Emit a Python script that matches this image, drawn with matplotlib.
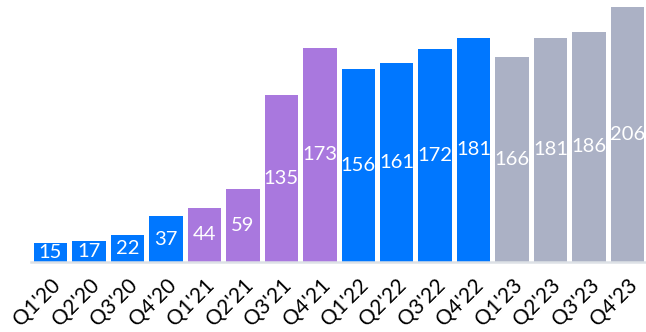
import numpy as np
import matplotlib.pyplot as plt

quarters = ["Q1'20", "Q2'20", "Q3'20", "Q4'20",
            "Q1'21", "Q2'21", "Q3'21", "Q4'21",
            "Q1'22", "Q2'22", "Q3'22", "Q4'22",
            "Q1'23", "Q2'23", "Q3'23", "Q4'23"]
values = [15, 17, 22, 37, 44, 59, 135, 173, 156, 161, 172, 181, 166, 181, 186, 206]
years = ["20", "20", "20", "20", "21", "21", "21", "21",
         "22", "22", "22", "22", "23", "23", "23", "23"]

year_colors = {"20": "#0077ff", "21": "#a978de", "22": "#0077ff", "23": "#abb1c5"}
colors = [year_colors[y] for y in years]

plt.rcParams['font.family'] = ['Lato', 'DejaVu Sans']

fig = plt.figure(figsize=(6.46, 3.32), dpi=100)
ax = fig.add_axes([31 / 646, (332 - 262) / 332, (646 - 31) / 646, (262 - 7) / 332])

x = np.arange(len(values))
bars = ax.bar(x, values, width=0.87, color=colors, zorder=2)

for xi, v in zip(x, values):
    ax.text(xi, v / 2, str(v), ha='center', va='center', color='white', fontsize=14.5, zorder=3)

ax.set_xlim(-0.507, 15.48)
ax.set_ylim(0, 206)

ax.set_xticks(x)
ax.set_xticklabels(quarters, rotation=45, ha='right', rotation_mode='anchor',
                   fontsize=15, color='black')
ax.tick_params(axis='x', length=0, pad=9)
ax.set_yticks([])

for s in ['top', 'right', 'left']:
    ax.spines[s].set_visible(False)
ax.spines['bottom'].set_color('#dde1e6')
ax.spines['bottom'].set_linewidth(1.8)

fig.savefig("out.png", dpi=100)
